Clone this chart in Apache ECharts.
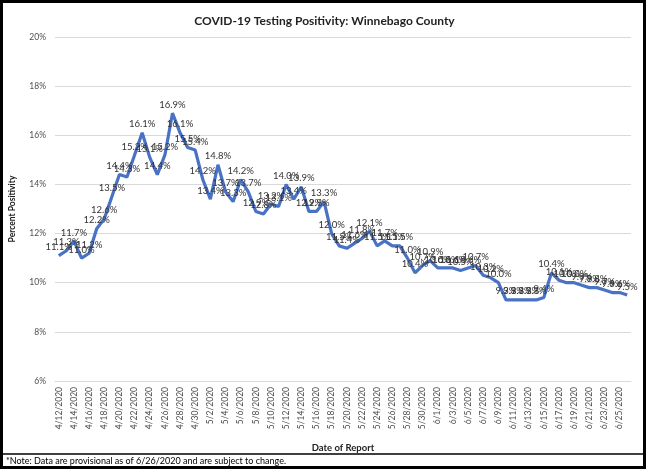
<!DOCTYPE html>
<html><head><meta charset="utf-8">
<script src="https://cdn.jsdelivr.net/npm/echarts@6/dist/echarts.min.js"></script>
<style>html,body{margin:0;padding:0;background:#fff}#c{width:649px;height:470px}</style>
</head><body><div id="c"></div>
<script>
const dates = [
'4/12/2020','4/13/2020','4/14/2020','4/15/2020','4/16/2020','4/17/2020','4/18/2020','4/19/2020','4/20/2020','4/21/2020',
'4/22/2020','4/23/2020','4/24/2020','4/25/2020','4/26/2020','4/27/2020','4/28/2020','4/29/2020','4/30/2020',
'5/1/2020','5/2/2020','5/3/2020','5/4/2020','5/5/2020','5/6/2020','5/7/2020','5/8/2020','5/9/2020','5/10/2020',
'5/11/2020','5/12/2020','5/13/2020','5/14/2020','5/15/2020','5/16/2020','5/17/2020','5/18/2020','5/19/2020','5/20/2020',
'5/21/2020','5/22/2020','5/23/2020','5/24/2020','5/25/2020','5/26/2020','5/27/2020','5/28/2020','5/29/2020','5/30/2020','5/31/2020',
'6/1/2020','6/2/2020','6/3/2020','6/4/2020','6/5/2020','6/6/2020','6/7/2020','6/8/2020','6/9/2020','6/10/2020',
'6/11/2020','6/12/2020','6/13/2020','6/14/2020','6/15/2020','6/16/2020','6/17/2020','6/18/2020','6/19/2020','6/20/2020',
'6/21/2020','6/22/2020','6/23/2020','6/24/2020','6/25/2020','6/26/2020'];
const positivity = [
11.1,11.3,11.7,11.0,11.2,12.2,12.6,13.5,14.4,14.3,
15.2,16.1,15.1,14.4,15.2,16.9,16.1,15.5,15.4,
14.2,13.4,14.8,13.7,13.3,14.2,13.7,12.9,12.8,13.2,
13.1,14.0,13.4,13.9,12.9,12.9,13.3,12.0,11.5,11.4,
11.6,11.8,12.1,11.5,11.7,11.5,11.5,11.0,10.4,10.7,10.9,
10.6,10.6,10.6,10.5,10.6,10.7,10.3,10.2,10.0,9.3,
9.3,9.3,9.3,9.3,9.4,10.4,10.1,10.0,10.0,9.9,
9.8,9.8,9.7,9.6,9.6,9.5];
const yMin = 6, yMax = 20, yStep = 2;
const titleText = 'COVID-19 Testing Positivity: Winnebago County';
const noteText = '*Note: Data are provisional as of 6/26/2020 and are subject to change.';

const FONT = "'Liberation Sans Narrow', Lato, sans-serif";
const chart = echarts.init(document.getElementById('c'));
chart.setOption({
  animation: false,
  backgroundColor: '#fff',
  title: {
    text: titleText, left: 'center', top: 10,
    textStyle: {fontFamily: FONT, fontSize: 12, fontWeight: 'bold', color: '#222'}
  },
  grid: {left: 51, right: 18, top: 37, bottom: 89},
  xAxis: {
    type: 'category', data: dates, boundaryGap: true,
    name: 'Date of Report', nameLocation: 'middle', nameGap: 62,
    nameTextStyle: {fontFamily: FONT, fontSize: 9.5, fontWeight: 'bold', color: '#222'},
    axisLine: {lineStyle: {color: '#d9d9d9'}},
    axisTick: {show: false},
    axisLabel: {rotate: 90, interval: 1, fontFamily: FONT, fontSize: 8.5, color: '#505050', margin: 6}
  },
  yAxis: {
    type: 'value', min: yMin, max: yMax, interval: yStep,
    name: 'Percent Positivity', nameLocation: 'middle', nameGap: 38, nameRotate: 90,
    nameTextStyle: {fontFamily: FONT, fontSize: 8.5, fontWeight: 'bold', color: '#222'},
    axisLine: {show: false}, axisTick: {show: false},
    splitLine: {lineStyle: {color: '#d9d9d9'}},
    axisLabel: {formatter: '{value}%', fontFamily: FONT, fontSize: 8.5, color: '#505050', margin: 9}
  },
  series: [{
    type: 'line', data: positivity,
    symbol: 'circle', symbolSize: 1,
    itemStyle: {color: 'rgba(0,0,0,0)'},
    lineStyle: {color: '#4a72c4', width: 3.2},
    label: {
      show: true, position: 'top', distance: 3,
      fontFamily: FONT, fontSize: 9.5, color: '#333',
      formatter: p => p.value.toFixed(1) + '%'
    }
  }],
  graphic: [
    {type: 'rect', shape: {x: 1.5, y: 1.5, width: 643, height: 466}, style: {fill: 'none', stroke: '#000', lineWidth: 3}},
    {type: 'line', shape: {x1: 1, y1: 454, x2: 645, y2: 454}, style: {stroke: '#000', lineWidth: 1.5}},
    {type: 'text', left: 6, top: 457, style: {text: noteText, font: "9px 'Liberation Sans Narrow', Lato, sans-serif", fill: '#000'}}
  ]
});
</script></body></html>
